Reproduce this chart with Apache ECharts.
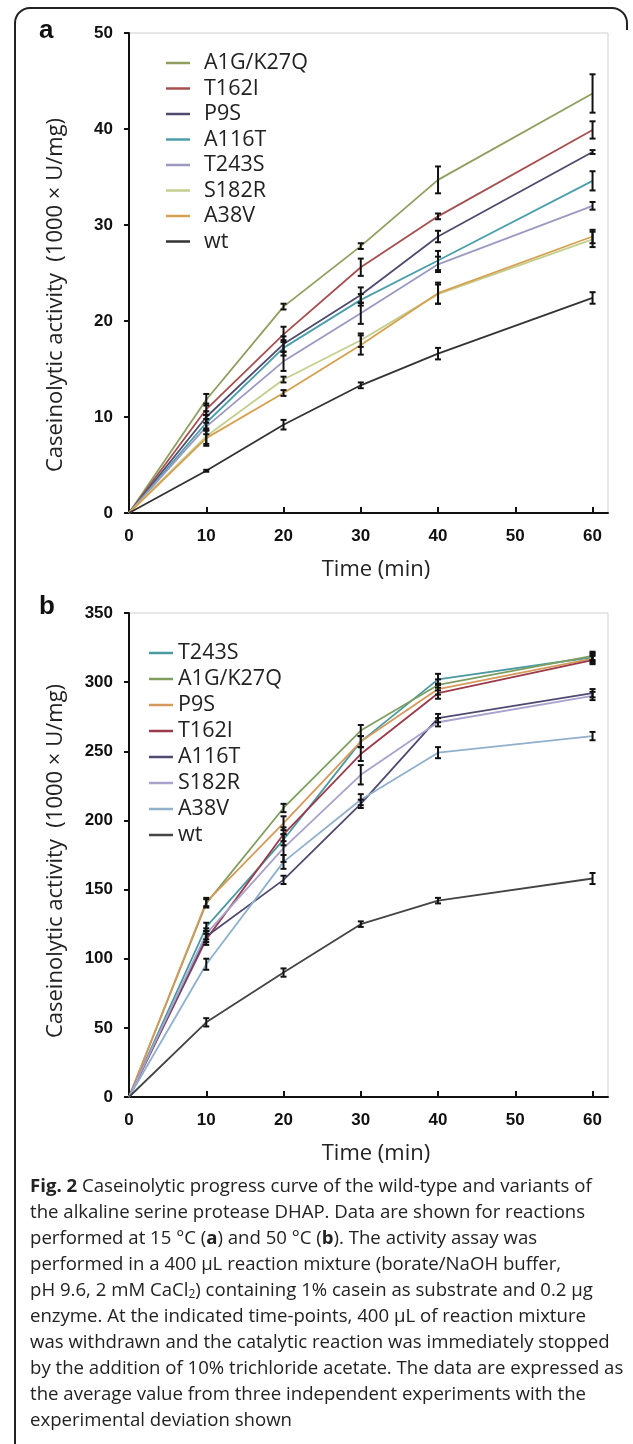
<!DOCTYPE html>
<html><head><meta charset="utf-8">
<script src="https://cdn.jsdelivr.net/npm/echarts@6/dist/echarts.min.js"></script>
<style>html,body{margin:0;padding:0;background:#fff}#c{width:633px;height:1444px}</style>
</head><body><div id="c"></div>
<script>
// ---------- data ----------
const times = [0, 10, 20, 30, 40, 60];
const xTickValues = [0, 10, 20, 30, 40, 50, 60];

// Panel a (15 °C)
const namesA = ['A1G/K27Q', 'T162I', 'P9S', 'A116T', 'T243S', 'S182R', 'A38V', 'wt'];
const valuesA = [
  [0, 11.8, 21.5, 27.8, 34.7, 43.7],
  [0, 10.8, 18.6, 25.6, 30.9, 39.9],
  [0, 10.0, 17.6, 22.7, 28.8, 37.6],
  [0, 9.4, 17.2, 22.2, 26.3, 34.6],
  [0, 9.0, 15.8, 20.8, 25.9, 32.0],
  [0, 8.0, 13.9, 18.0, 22.8, 28.5],
  [0, 7.8, 12.5, 17.5, 22.9, 28.8],
  [0, 4.4, 9.2, 13.3, 16.6, 22.4]
];
const errorsA = [
  [0, 0.6, 0.3, 0.3, 1.4, 2.0],
  [0, 0.6, 0.8, 0.9, 0.3, 0.9],
  [0, 0.6, 0.8, 0.8, 0.6, 0.2],
  [0, 0.8, 0.8, 0.6, 1.0, 1.0],
  [0, 0.8, 1.0, 1.1, 0.8, 0.4],
  [0, 0.8, 0.3, 0.7, 1.0, 0.8],
  [0, 0.8, 0.3, 1.0, 1.1, 0.7],
  [0, 0.1, 0.5, 0.3, 0.6, 0.6]
];

// Panel b (50 °C)
const namesB = ['T243S', 'A1G/K27Q', 'P9S', 'T162I', 'A116T', 'S182R', 'A38V', 'wt'];
const valuesB = [
  [0, 123, 186, 257, 302, 318],
  [0, 140, 209, 265, 298, 319],
  [0, 141, 198, 257, 295, 317],
  [0, 114, 190, 248, 292, 316],
  [0, 116, 157, 212, 274, 292],
  [0, 118, 180, 233, 271, 290],
  [0, 96, 170, 215, 249, 261],
  [0, 54, 90, 125, 142, 158]
];
const errorsB = [
  [0, 3, 4, 4, 4, 3],
  [0, 3, 3, 4, 4, 3],
  [0, 3, 5, 4, 4, 3],
  [0, 4, 5, 5, 4, 3],
  [0, 4, 3, 3, 3, 3],
  [0, 4, 10, 7, 3, 3],
  [0, 4, 5, 4, 4, 3],
  [0, 3, 3, 2, 2, 4]
];

const captionLines = [
  '{b|Fig. 2} Caseinolytic progress curve of the wild-type and variants of',
  'the alkaline serine protease DHAP. Data are shown for reactions',
  'performed at 15 °C ({b|a}) and 50 °C ({b|b}). The activity assay was',
  'performed in a 400 μL reaction mixture (borate/NaOH buffer,',
  'pH 9.6, 2 mM CaCl{s|2}) containing 1% casein as substrate and 0.2 μg',
  'enzyme. At the indicated time-points, 400 μL of reaction mixture',
  'was withdrawn and the catalytic reaction was immediately stopped',
  'by the addition of 10% trichloride acetate. The data are expressed as',
  'the average value from three independent experiments with the',
  'experimental deviation shown'
];

// ---------- styles ----------
const colorsA = ['#8f9f5f', '#a5504f', '#504b6e', '#4b9fab', '#9b99c2', '#c3cf8f', '#d5a150', '#333333'];
const colorsB = ['#4b9aa2', '#7f9f61', '#d49a5c', '#9b3a4a', '#4f4a70', '#aaa1cc', '#90b0cc', '#444444'];
const tickFont = {fontFamily: 'Liberation Sans, Arial, sans-serif', fontWeight: 'bold', fontSize: 17, color: '#111'};
const textFont = 'Open Sans, Noto Sans, sans-serif';
const capSize = 18.6;

function lineSeries(prefix, names, values, colors, gi) {
  return names.map((n, i) => ({
    name: prefix + n, type: 'line', xAxisIndex: gi, yAxisIndex: gi,
    data: values[i].map((v, j) => [times[j], v]),
    showSymbol: false, symbol: 'none', lineStyle: {width: 1.8, color: colors[i]},
    itemStyle: {color: colors[i]}, z: 3, animation: false, silent: true
  }));
}
function errSeries(values, errors, gi) {
  const data = [];
  values.forEach((row, i) => row.forEach((v, j) => {
    if (errors[i][j] > 0) data.push([times[j], v - errors[i][j], v + errors[i][j]]);
  }));
  return {
    type: 'custom', xAxisIndex: gi, yAxisIndex: gi, z: 6, silent: true, animation: false,
    data, encode: {x: 0, y: [1, 2]},
    renderItem: (params, api) => {
      const x = api.value(0);
      const lo = api.coord([x, api.value(1)]);
      const hi = api.coord([x, api.value(2)]);
      const w = 3, st = {stroke: '#111', lineWidth: 2};
      return {type: 'group', children: [
        {type: 'line', shape: {x1: lo[0], y1: lo[1], x2: hi[0], y2: hi[1]}, style: st},
        {type: 'line', shape: {x1: lo[0] - w, y1: lo[1], x2: lo[0] + w, y2: lo[1]}, style: st},
        {type: 'line', shape: {x1: hi[0] - w, y1: hi[1], x2: hi[0] + w, y2: hi[1]}, style: st}
      ]};
    }
  };
}
function xAxisCfg(gi) {
  return {
    type: 'value', gridIndex: gi, min: 0, max: 62, interval: 10,
    name: 'Time (min)', nameLocation: 'middle', nameGap: 46,
    nameTextStyle: {fontFamily: textFont, fontSize: 22, color: '#222', padding: [0, 0, 0, 15]},
    axisLine: {lineStyle: {color: '#111', width: 2}},
    axisTick: {inside: true, length: 6, lineStyle: {color: '#111', width: 2}, customValues: xTickValues},
    axisLabel: Object.assign({margin: 15, customValues: xTickValues}, tickFont),
    splitLine: {show: false}
  };
}
function yAxisCfg(gi, max, interval, shiftPad) {
  return {
    type: 'value', gridIndex: gi, min: 0, max, interval,
    name: 'Caseinolytic activity  (1000 × U/mg)', nameLocation: 'middle', nameGap: 62,
    nameTextStyle: {fontFamily: textFont, fontSize: 22, color: '#222', padding: [0, shiftPad, 0, 0]},
    axisLine: {show: true, lineStyle: {color: '#111', width: 2}},
    axisTick: {show: true, inside: false, length: 5, lineStyle: {color: '#111', width: 2}},
    axisLabel: Object.assign({margin: 16}, tickFont),
    splitLine: {show: false}
  };
}

// rounded frame (top edge with rounded corners, left edge to the bottom)
const framePts = [[15, 1444], [15, 23]];
for (let k = 1; k < 8; k++) { const a = Math.PI - k * Math.PI / 16; framePts.push([30 + 15 * Math.cos(a), 23 - 15 * Math.sin(a)]); }
framePts.push([30, 8], [612, 8]);
for (let k = 1; k < 8; k++) { const a = Math.PI / 2 - k * Math.PI / 16; framePts.push([612 + 15 * Math.cos(a), 23 - 15 * Math.sin(a)]); }
framePts.push([627, 23], [627, 30]);

const graphics = [
  {type: 'polyline', shape: {points: framePts}, style: {fill: null, stroke: '#222', lineWidth: 2}, silent: true},
  {type: 'text', left: 39, top: 18, style: {text: 'a', fontFamily: 'Liberation Sans, Arial', fontWeight: 'bold', fontSize: 26, fill: '#111'}},
  {type: 'text', left: 39, top: 594, style: {text: 'b', fontFamily: 'Liberation Sans, Arial', fontWeight: 'bold', fontSize: 26, fill: '#111'}}
];
captionLines.forEach((t, i) => {
  graphics.push({type: 'text', x: 30, y: 1177 + i * 26, silent: true, style: {
    text: t, fontFamily: textFont, fontSize: capSize, fill: '#222',
    rich: {
      b: {fontFamily: textFont, fontSize: capSize, fontWeight: 'bold', fill: '#222'},
      s: {fontFamily: textFont, fontSize: 12, fill: '#222', padding: [8, 0, 0, 0]}
    }
  }});
});

const option = {
  backgroundColor: '#fff',
  animation: false,
  grid: [
    {left: 129, top: 33, width: 479, height: 480, show: true, borderColor: '#cfcfcf', borderWidth: 1},
    {left: 129, top: 613, width: 479, height: 484, show: true, borderColor: '#cfcfcf', borderWidth: 1}
  ],
  xAxis: [xAxisCfg(0), xAxisCfg(1)],
  yAxis: [yAxisCfg(0, 50, 10, 44), yAxisCfg(1, 350, 50, 12)],
  legend: [
    {data: namesA.map(n => 'a_' + n), orient: 'vertical', left: 161, top: 47, itemWidth: 24, itemHeight: 2.5,
     icon: 'rect', itemGap: 3.5, selectedMode: false, formatter: n => n.slice(2),
     textStyle: {fontFamily: textFont, fontSize: 21.5, lineHeight: 21, color: '#222', padding: [0, 0, 0, 9]}},
    {data: namesB.map(n => 'b_' + n), orient: 'vertical', left: 144, top: 637, itemWidth: 24, itemHeight: 2.5,
     icon: 'rect', itemGap: 4, selectedMode: false, formatter: n => n.slice(2),
     textStyle: {fontFamily: textFont, fontSize: 21.5, lineHeight: 21, color: '#222'}}
  ],
  series: [
    ...lineSeries('a_', namesA, valuesA, colorsA, 0),
    errSeries(valuesA, errorsA, 0),
    ...lineSeries('b_', namesB, valuesB, colorsB, 1),
    errSeries(valuesB, errorsB, 1)
  ],
  graphic: graphics
};
const chart = echarts.init(document.getElementById('c'), null, {renderer: 'canvas'});
chart.setOption(option);
</script></body></html>
